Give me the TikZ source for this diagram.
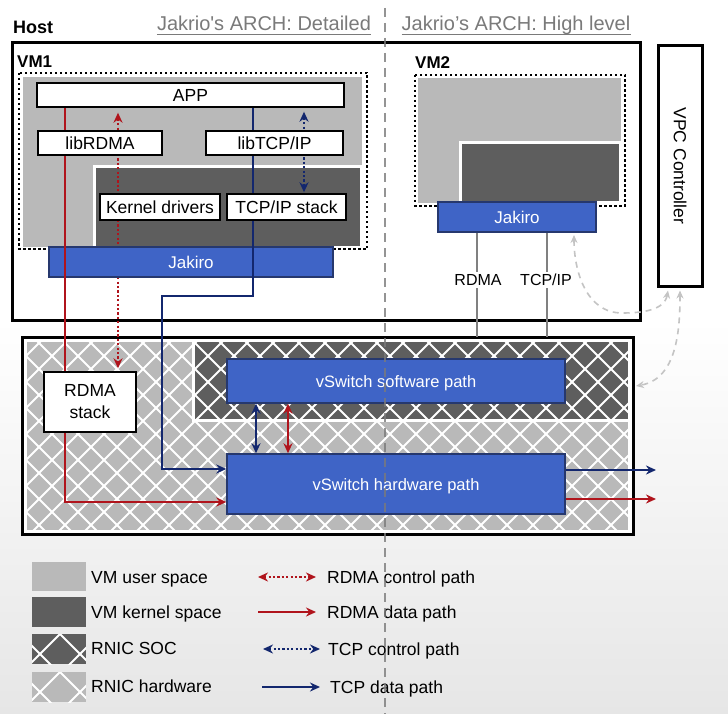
\documentclass[tikz,border=0pt]{standalone}
\usepackage{fontspec}
\setmainfont{Liberation Sans}
\usetikzlibrary{arrows.meta,calc}
\definecolor{lg}{HTML}{B9B9B9}
\definecolor{dg}{HTML}{5E5E5E}
\definecolor{jblue}{HTML}{3F64C6}
\definecolor{jborder}{HTML}{26386E}
\definecolor{rpath}{HTML}{B0141C}
\definecolor{bpath}{HTML}{13276E}
\definecolor{ttlc}{HTML}{7A7A7A}
\definecolor{bgbot}{HTML}{E6E6E6}
\definecolor{ctrlc}{HTML}{C4C4C4}
\newcommand\myfs[2]{\fontsize{#1}{#2}\selectfont}
\pgfdeclarelayer{bg}
\pgfdeclarelayer{dots}
\pgfdeclarelayer{jk}
\pgfdeclarelayer{solid}
\pgfdeclarelayer{top}
\pgfsetlayers{bg,dots,jk,solid,main,top}
\begin{document}
\begin{tikzpicture}[x=1pt,y=-1pt,
  >={Stealth[length=10pt,width=9pt]},
  wbox/.style={draw=black,line width=1.4pt,fill=white,inner sep=0pt,text height=12.5pt,text depth=0pt,font=\myfs{17.5}{20}},
  jbox/.style={draw=jborder,line width=1.4pt,fill=jblue,text=white,inner sep=0pt,text height=12pt,text depth=0pt,font=\myfs{17}{20}},
  frame/.style={draw=black,line width=3pt},
  vmdot/.style={draw=black,line width=2.5pt,dash pattern=on 2.5pt off 2.5pt},
  rsolid/.style={draw=rpath,line width=2.5pt},
  bsolid/.style={draw=bpath,line width=2.5pt},
  rdot/.style={draw=rpath,line width=2.8pt,dash pattern=on 2.2pt off 2.2pt},
  bdot/.style={draw=bpath,line width=2.8pt,dash pattern=on 2.2pt off 2.2pt},
  gline/.style={draw=gray,line width=2pt},
  ctrl/.style={draw=ctrlc,line width=1.6pt,dash pattern=on 6pt off 5pt,>={Stealth[length=8pt,width=7pt]}},
  hatch/.style={draw=white,line width=1.8pt},
  lgd/.style={anchor=base west,inner sep=0pt,font=\myfs{17.5}{20}},
  ttl/.style={anchor=base,inner sep=0pt,text=ttlc,font=\myfs{20}{24}},
  divider/.style={draw=ttlc,line width=2.6pt,dash pattern=on 9pt off 6pt,opacity=0.8}]
\useasboundingbox (0,0) rectangle (728,714);

% ---------- background layer ----------
\begin{pgfonlayer}{bg}
\fill[white] (0,0) rectangle (728,714);
\shade[top color=white,bottom color=bgbot] (0,320) rectangle (728,714);
% host
\draw[frame,fill=white] (12,43) rectangle (640,320);
% VM1 regions
\fill[lg] (23,77) rectangle (362,247);
\draw[white,line width=3pt,fill=dg] (94.5,166.5) rectangle (361,247);
\draw[vmdot] (19,73) rectangle (367,249);
% VM2 regions
\fill[lg] (418,78) rectangle (621,203);
\draw[white,line width=3pt,fill=dg] (460.5,142.5) rectangle (620,203);
\draw[vmdot] (415,75) rectangle (625,206);
% lower (RNIC) box
\draw[frame,fill=white] (22,337) rectangle (633,534);
\begin{scope}
  \clip (27,342) rectangle (628,530);
  \fill[lg] (27,342) rectangle (628,530);
  \fill[dg] (195,342) rectangle (628,419);
  \foreach \i in {-10,...,36}{
    \draw[hatch] (\i*26,330) -- ++(220,220);
    \draw[hatch] (\i*26,330) -- ++(-220,220);
  }
\end{scope}
\draw[white,line width=3pt] (193.5,342) -- (193.5,420.5) -- (628,420.5);
% legend swatches
\fill[lg] (32,562) rectangle (86,591);
\fill[dg] (32,597) rectangle (86,627);
\begin{scope}
  \clip (32,634) rectangle (86,664);
  \fill[dg] (32,634) rectangle (86,664);
  \foreach \i in {-2,...,4}{
    \draw[hatch] (20+\i*40,634) -- ++(40,40);
    \draw[hatch] (20+\i*40,634) -- ++(-40,40);
  }
\end{scope}
\begin{scope}
  \clip (32,672) rectangle (86,702);
  \fill[lg] (32,672) rectangle (86,702);
  \foreach \i in {-2,...,4}{
    \draw[hatch] (20+\i*40,672) -- ++(40,40);
    \draw[hatch] (20+\i*40,672) -- ++(-40,40);
  }
\end{scope}
\end{pgfonlayer}

% ---------- white boxes (main) ----------
\node[wbox,minimum width=307pt,minimum height=24pt] (app) at (190.5,95) {APP};
\node[wbox,minimum width=124pt,minimum height=24pt] (librdma) at (100,143) {libRDMA};
\node[wbox,minimum width=137pt,minimum height=24pt] (libtcp) at (274.5,143) {libTCP/IP};
\node[wbox,minimum width=120pt,minimum height=26pt] (kdrv) at (160,207) {Kernel drivers};
\node[wbox,minimum width=119pt,minimum height=26pt] (tcpstack) at (286.5,207) {TCP/IP stack};
\node[draw=black,line width=1.4pt,fill=white,minimum width=92pt,minimum height=60pt,align=center,font=\myfs{17.5}{22}] (rdmastack) at (90,402) {RDMA\\stack};

% ---------- blue boxes ----------
\begin{pgfonlayer}{jk}
\node[jbox,minimum width=284pt,minimum height=30pt] (jak1) at (191,262) {Jakiro};
\node[jbox,minimum width=158pt,minimum height=30pt] (jak2) at (517,217) {Jakiro};
\node[jbox,minimum width=338pt,minimum height=44pt,font=\myfs{16.5}{20}] (vswsw) at (396,381) {vSwitch software path};
\node[jbox,minimum width=338pt,minimum height=60pt,font=\myfs{16.5}{20}] (vswhw) at (396,484) {vSwitch hardware path};
\end{pgfonlayer}

% ---------- coordinates ----------
\coordinate (xr) at (65,0);
\coordinate (xrd) at (118,0);
\coordinate (xb) at (253,0);
\coordinate (xbd) at (304,0);
\coordinate (xb2) at (162,0);
\coordinate (yb1) at (0,296);
\coordinate (ybin) at (0,469);
\coordinate (yrin) at (0,502);
\coordinate (xv1) at (256,0);
\coordinate (xv2) at (288,0);
\coordinate (oB) at (656,470);
\coordinate (oR) at (656,499);
\coordinate (xg1) at (477,0);
\coordinate (xg2) at (547,0);
\coordinate (lowtop) at (0,337);

% ---------- dotted control paths ----------
\begin{pgfonlayer}{dots}
\draw[rdot,<->,shorten <=5pt,shorten >=3pt] (app.south -| xrd) -- (rdmastack.north -| xrd);
\draw[bdot,<->,shorten <=4pt,shorten >=1pt] (app.south -| xbd) -- (tcpstack.north -| xbd);
\draw[gline] (jak2.south -| xg1) -- (xg1 |- lowtop);
\draw[gline] (jak2.south -| xg2) -- (xg2 |- lowtop);
\end{pgfonlayer}
\node[fill=white,inner sep=2pt,font=\myfs{16}{18}] (lrd) at (478,280) {RDMA};
\node[fill=white,inner sep=2pt,font=\myfs{16}{18}] (ltc) at (546,280) {TCP/IP};

% ---------- solid data paths ----------
\begin{pgfonlayer}{solid}
\draw[rsolid,->] (app.south -| xr) |- (vswhw.west |- yrin);
\draw[bsolid,->] (app.south -| xb) -- (xb |- yb1) -- (xb2 |- yb1) -- (xb2 |- ybin) -- (vswhw.west |- ybin);
\draw[bsolid,<->] (vswsw.south -| xv1) -- (vswhw.north -| xv1);
\draw[rsolid,<->] (vswsw.south -| xv2) -- (vswhw.north -| xv2);
\draw[bsolid,->] (vswhw.east |- oB) -- (oB);
\draw[rsolid,->] (vswhw.east |- oR) -- (oR);
\end{pgfonlayer}

% ---------- VPC controller ----------
\node[draw=black,line width=3pt,fill=white,minimum width=44pt,minimum height=240pt,inner sep=0pt] (vpc) at (680,166) {};
\node[rotate=-90,font=\myfs{17.5}{20},inner sep=0pt] (vpct) at (vpc.center) {VPC Controller};
\coordinate (c1) at (574,235);
\coordinate (c2) at (636,386);
\draw[ctrl,<->] (c1) to[out=-90,in=180] (622,313) to[out=0,in=-100] ([xshift=-12pt,yshift=-3pt]vpc.south);
\draw[ctrl,<->] ([yshift=-3pt]vpc.south) to[out=-90,in=10] (c2);

% ---------- labels ----------
\node[anchor=base west,inner sep=0pt,font=\bfseries\myfs{18}{20}] (host) at (13,34) {Host};
\node[anchor=base west,inner sep=0pt,font=\bfseries\myfs{17}{20}] (vm1) at (17,68) {VM1};
\node[anchor=base west,inner sep=0pt,font=\bfseries\myfs{17}{20}] (vm2) at (415,69) {VM2};
\node[ttl] (t1) at (264,31) {Jakrio\textquotesingle s ARCH: Detailed};
\node[ttl] (t2) at (516,31) {Jakrio’s ARCH: High level};
\draw[ttlc,line width=1pt] (t1.west |- 0,34.5) -- (t1.east |- 0,34.5);
\draw[ttlc,line width=1pt] (t2.west |- 0,34.5) -- (t2.east |- 0,34.5);

% ---------- legend ----------
\node[lgd] (lg1) at (91,583) {VM user space};
\node[lgd] (lg2) at (91,618) {VM kernel space};
\node[lgd] (lg3) at (91,654) {RNIC SOC};
\node[lgd] (lg4) at (91,692) {RNIC hardware};
\node[lgd] (lr1) at (327,583) {RDMA control path};
\node[lgd] (lr2) at (327,618) {RDMA data path};
\node[lgd] (lr3) at (328,655) {TCP control path};
\node[lgd] (lr4) at (330,693) {TCP data path};
\coordinate (a1s) at (258,577); \coordinate (a1e) at (316,577);
\coordinate (a2s) at (258,612); \coordinate (a2e) at (316,612);
\coordinate (a3s) at (263,649); \coordinate (a3e) at (320,649);
\coordinate (a4s) at (262,687); \coordinate (a4e) at (320,687);
\draw[rdot,<->] (a1s) -- (a1e);
\draw[rsolid,->] (a2s) -- (a2e);
\draw[bdot,<->] (a3s) -- (a3e);
\draw[bsolid,->] (a4s) -- (a4e);

% ---------- divider ----------
\begin{pgfonlayer}{top}
\coordinate (dv1) at (385,8);
\coordinate (dv2) at (385,714);
\draw[divider] (dv1) -- (dv2);
\end{pgfonlayer}
\end{tikzpicture}
\end{document}
